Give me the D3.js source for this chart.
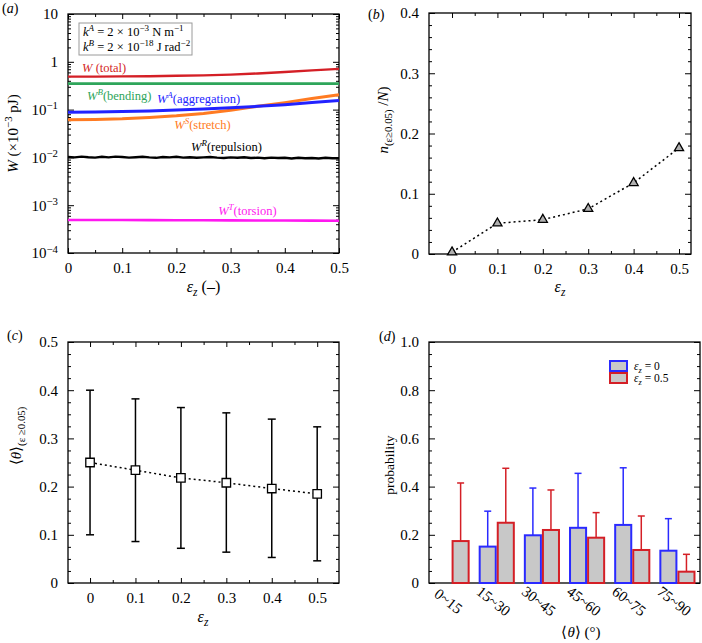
<!DOCTYPE html>
<html><head><meta charset="utf-8">
<script src="https://cdn.jsdelivr.net/npm/d3@7"></script>
<style>body{margin:0;background:#fff}</style>
</head><body>
<svg id="c" width="702" height="643"></svg>
<script>
// ---------------- data ----------------
const epsA = [0, 0.05, 0.1, 0.15, 0.2, 0.25, 0.3, 0.35, 0.4, 0.45, 0.5];
const wTotal = [0.49, 0.49, 0.495, 0.50, 0.51, 0.52, 0.54, 0.57, 0.61, 0.66, 0.71];
const wBending = [0.35, 0.35, 0.349, 0.35, 0.349, 0.35, 0.349, 0.35, 0.349, 0.35, 0.349];
const wAggregation = [0.088, 0.089, 0.091, 0.094, 0.098, 0.103, 0.109, 0.117, 0.127, 0.14, 0.155];
const wStretch = [0.061, 0.062, 0.064, 0.068, 0.074, 0.083, 0.097, 0.117, 0.14, 0.17, 0.205];
const wTorsion = [0.00049, 0.00049, 0.00049, 0.000488, 0.000486, 0.000485, 0.000482, 0.00048, 0.000478, 0.000475, 0.000472];
const epsFine = [0, 0.0125, 0.025, 0.0375, 0.05, 0.0625, 0.075, 0.0875, 0.1, 0.1125,
  0.125, 0.1375, 0.15, 0.1625, 0.175, 0.1875, 0.2, 0.2125, 0.225, 0.2375,
  0.25, 0.2625, 0.275, 0.2875, 0.3, 0.3125, 0.325, 0.3375, 0.35, 0.3625,
  0.375, 0.3875, 0.4, 0.4125, 0.425, 0.4375, 0.45, 0.4625, 0.475, 0.4875, 0.5];
const wRepulsion = [0.0102, 0.0100, 0.0104, 0.0101, 0.0099, 0.0103, 0.0100, 0.0104, 0.0102, 0.0099,
  0.0101, 0.0103, 0.0100, 0.0098, 0.0102, 0.0100, 0.0103, 0.0099, 0.0101, 0.0098,
  0.0100, 0.0102, 0.0099, 0.0097, 0.0100, 0.0098, 0.0101, 0.0097, 0.0099, 0.0096,
  0.0099, 0.0097, 0.0098, 0.0095, 0.0098, 0.0096, 0.0097, 0.0095, 0.0098, 0.0096, 0.0096];
const logTicks = [1e-4, 1e-3, 1e-2, 1e-1, 1, 10];

const epsB = [0, 0.1, 0.2, 0.3, 0.4, 0.5];
const nFrac = [0.003, 0.051, 0.057, 0.075, 0.118, 0.176];

const thetaMean = [0.250, 0.234, 0.218, 0.208, 0.196, 0.185];
const thetaHi = [0.400, 0.382, 0.364, 0.353, 0.340, 0.324];
const thetaLo = [0.100, 0.086, 0.072, 0.064, 0.053, 0.046];

const angleBins = ["0~15", "15~30", "30~45", "45~60", "60~75", "75~90"];
const probE0 = [0, 0.151, 0.198, 0.229, 0.241, 0.134];
const probE0Up = [0, 0.298, 0.394, 0.455, 0.478, 0.267];
const probE05 = [0.174, 0.250, 0.220, 0.188, 0.137, 0.047];
const probE05Up = [0.415, 0.476, 0.386, 0.292, 0.278, 0.119];

// ---------------- helpers ----------------
const serif = "'Liberation Serif','Times New Roman',serif";
const svg = d3.select("#c").attr("font-family", serif);

function rich(sel, parts, fs) {
  let shift = 0;
  parts.forEach(p => {
    const txt = p[0], o = p[1] || {};
    const target = o.sup ? -0.38 * fs : o.sub ? 0.28 * fs : 0;
    const ts = sel.append("tspan").text(txt);
    if (target - shift !== 0) ts.attr("dy", target - shift);
    shift = target;
    if (o.sup || o.sub) ts.attr("font-size", fs * 0.72);
    if (o.i) ts.attr("font-style", "italic");
  });
  return sel;
}

function styleAxis(s) {
  s.select(".domain").remove();
  s.attr("font-family", serif).attr("font-size", 15);
  s.selectAll("line").attr("stroke", "#000").attr("stroke-width", 1);
  s.selectAll("text").attr("fill", "#000");
}

function axesFor(g, x, y, o) {
  const [yb, yt] = y.range();
  const [xl, xr] = x.range();
  if (o.xMajor) {
    g.append("g").attr("transform", `translate(0,${yb})`)
      .call(d3.axisBottom(x).tickValues(o.xMajor).tickSizeInner(-5).tickSizeOuter(0).tickPadding(9).tickFormat(o.xFmt)).call(styleAxis);
    g.append("g").attr("transform", `translate(0,${yt})`)
      .call(d3.axisTop(x).tickValues(o.xMajor).tickSizeInner(-5).tickSizeOuter(0).tickFormat(() => "")).call(styleAxis);
  }
  if (o.xMinor) {
    g.append("g").attr("transform", `translate(0,${yb})`)
      .call(d3.axisBottom(x).tickValues(o.xMinor).tickSizeInner(-3).tickSizeOuter(0).tickFormat(() => "")).call(styleAxis);
    g.append("g").attr("transform", `translate(0,${yt})`)
      .call(d3.axisTop(x).tickValues(o.xMinor).tickSizeInner(-3).tickSizeOuter(0).tickFormat(() => "")).call(styleAxis);
  }
  const la = g.append("g").attr("transform", `translate(${xl},0)`)
    .call(d3.axisLeft(y).tickValues(o.yMajor).tickSizeInner(-6).tickSizeOuter(0).tickPadding(10).tickFormat(o.yFmt)).call(styleAxis);
  g.append("g").attr("transform", `translate(${xr},0)`)
    .call(d3.axisRight(y).tickValues(o.yMajor).tickSizeInner(-6).tickSizeOuter(0).tickFormat(() => "")).call(styleAxis);
  if (o.yMinor) {
    g.append("g").attr("transform", `translate(${xl},0)`)
      .call(d3.axisLeft(y).tickValues(o.yMinor).tickSizeInner(-3).tickSizeOuter(0).tickFormat(() => "")).call(styleAxis);
    g.append("g").attr("transform", `translate(${xr},0)`)
      .call(d3.axisRight(y).tickValues(o.yMinor).tickSizeInner(-3).tickSizeOuter(0).tickFormat(() => "")).call(styleAxis);
  }
  g.append("rect").attr("x", xl).attr("y", yt).attr("width", xr - xl).attr("height", yb - yt)
    .attr("fill", "none").attr("stroke", "#000").attr("stroke-width", 1.3);
  return la;
}

const fmt1 = d => d === 0 ? "0" : d3.format(".1f")(d);

function panelLabel(x, y, letter) {
  rich(svg.append("text").attr("x", x).attr("y", y).attr("font-size", 14),
    [["("], [letter, { i: true }], [")"]], 14);
}

// ---------------- panel (a) ----------------
const gA = svg.append("g");
const xA = d3.scaleLinear([0, 0.5], [68, 339]);
const yA = d3.scaleLog([1e-4, 10], [253, 14]);
const minorLog = [];
logTicks.slice(0, -1).forEach(t => { for (let k = 2; k <= 9; k++) minorLog.push(t * k); });
const xMajA = [0, 0.1, 0.2, 0.3, 0.4, 0.5];
const xMinA = [0.05, 0.15, 0.25, 0.35, 0.45];
const laA = axesFor(gA, xA, yA, { xMajor: xMajA, xMinor: xMinA, xFmt: fmt1, yMajor: logTicks, yMinor: minorLog, yFmt: () => "" });
laA.selectAll(".tick text").each(function (d) {
  const e = Math.round(Math.log10(d));
  const t = d3.select(this);
  if (e === 0) rich(t, [["1"]], 15);
  else if (e === 1) rich(t, [["10"]], 15);
  else rich(t, [["10"], ["\u2212" + (-e), { sup: true }]], 15);
});

const lineA = (xs) => d3.line().x((d, i) => xA(xs[i])).y(d => yA(d));
const seriesA = [
  [wTotal, epsA, "#d41f26", 2.4],
  [wBending, epsA, "#2ea55a", 2.8],
  [wStretch, epsA, "#ff7b22", 3.0],
  [wAggregation, epsA, "#2222ff", 3.0],
  [wRepulsion, epsFine, "#000", 2.4],
  [wTorsion, epsA, "#ff18f0", 2.6]
];
gA.append("g").selectAll("path").data(seriesA).join("path")
  .attr("d", s => lineA(s[1])(s[0]))
  .attr("fill", "none").attr("stroke", s => s[2]).attr("stroke-width", s => s[3]);

const labelsA = [
  [0.026, 0.61, "#d41f26", [["W", { i: true }], [" (total)"]]],
  [0.035, 0.158, "#2ea55a", [["W", { i: true }], ["B", { i: true, sup: true }], ["(bending)"]]],
  [0.164, 0.137, "#2222ff", [["W", { i: true }], ["A", { i: true, sup: true }], ["(aggregation)"]]],
  [0.196, 0.0393, "#ff7b22", [["W", { i: true }], ["S", { i: true, sup: true }], ["(stretch)"]]],
  [0.227, 0.0136, "#000", [["W", { i: true }], ["R", { i: true, sup: true }], ["(repulsion)"]]],
  [0.277, 0.000624, "#ff18f0", [["W", { i: true }], ["T", { i: true, sup: true }], ["(torsion)"]]]
];
labelsA.forEach(l => {
  const t = gA.append("text").attr("x", xA(l[0])).attr("y", yA(l[1])).attr("fill", l[2]).attr("font-size", 12.5);
  rich(t, l[3], 12.5);
});

// parameter box
gA.append("rect").attr("x", xA(0) + 11).attr("y", yA(10) + 9).attr("width", 113).attr("height", 32)
  .attr("fill", "#fff").attr("stroke", "#9a9a9a").attr("stroke-width", 1);
rich(gA.append("text").attr("x", xA(0) + 15).attr("y", yA(10) + 22).attr("font-size", 12.5),
  [["k", { i: true }], ["A", { i: true, sup: true }], [" = 2 \u00d7 10"], ["\u22123", { sup: true }], [" N m"], ["\u22121", { sup: true }]], 12.5);
rich(gA.append("text").attr("x", xA(0) + 15).attr("y", yA(10) + 37).attr("font-size", 12.5),
  [["k", { i: true }], ["B", { i: true, sup: true }], [" = 2 \u00d7 10"], ["\u221218", { sup: true }], [" J rad"], ["\u22122", { sup: true }]], 12.5);

rich(svg.append("text").attr("transform", `translate(18,${(yA.range()[0] + yA.range()[1]) / 2}) rotate(-90)`)
  .attr("text-anchor", "middle").attr("font-size", 15),
  [["W", { i: true }], [" (\u00d710"], ["\u22123", { sup: true }], [" pJ)"]], 15);
rich(svg.append("text").attr("x", (xA.range()[0] + xA.range()[1]) / 2).attr("y", 292).attr("text-anchor", "middle").attr("font-size", 16),
  [["\u03b5", { i: true }], ["z", { i: true, sub: true }], [" (\u2013)"]], 16);
panelLabel(2, 13, "a");

// ---------------- panel (b) ----------------
const gB = svg.append("g");
const xB = d3.scaleLinear([-0.0507, 0.5264], [429, 691]);
const yB = d3.scaleLinear([0, 0.4], [254, 13]);
const yMinB = d3.range(0.02, 0.4, 0.02).filter(v => Math.abs(v * 10 - Math.round(v * 10)) > 1e-6);
axesFor(gB, xB, yB, { xMajor: xMajA, xMinor: xMinA, xFmt: fmt1, yMajor: [0, 0.1, 0.2, 0.3, 0.4], yMinor: yMinB, yFmt: fmt1 });
gB.append("path").datum(nFrac)
  .attr("d", d3.line().x((d, i) => xB(epsB[i])).y(d => yB(d)))
  .attr("fill", "none").attr("stroke", "#000").attr("stroke-width", 1.5).attr("stroke-dasharray", "2,3");
gB.selectAll(".tri").data(nFrac).join("path").attr("class", "tri")
  .attr("transform", (d, i) => `translate(${xB(epsB[i])},${yB(d)})`)
  .attr("d", d3.symbol(d3.symbolTriangle, 36))
  .attr("fill", "#b0b0b0").attr("stroke", "#000").attr("stroke-width", 1.3);
rich(svg.append("text").attr("transform", `translate(388,120) rotate(-90)`).attr("text-anchor", "middle").attr("font-size", 15),
  [["n", { i: true }], ["(\u03b5\u22650.05)", { sub: true }], [" /"], ["N", { i: true }], [")"]], 15);
rich(svg.append("text").attr("x", 560).attr("y", 292).attr("text-anchor", "middle").attr("font-size", 16),
  [["\u03b5", { i: true }], ["z", { i: true, sub: true }]], 16);
panelLabel(368, 19, "b");

// ---------------- panel (c) ----------------
const gC = svg.append("g");
const xC = d3.scaleLinear([-0.0485, 0.548], [68, 339]);
const yC = d3.scaleLinear([0, 0.5], [583, 342]);
const yMinC = d3.range(0.025, 0.5, 0.025).filter(v => Math.abs(v * 10 - Math.round(v * 10)) > 1e-6);
axesFor(gC, xC, yC, { xMajor: xMajA, xMinor: xMinA, xFmt: fmt1, yMajor: [0, 0.1, 0.2, 0.3, 0.4, 0.5], yMinor: yMinC, yFmt: fmt1 });
const eb = gC.append("g").attr("stroke", "#000").attr("stroke-width", 1.5);
thetaMean.forEach((m, i) => {
  const cx = xC(epsB[i]);
  eb.append("line").attr("x1", cx).attr("x2", cx).attr("y1", yC(thetaLo[i])).attr("y2", yC(thetaHi[i]));
  eb.append("line").attr("x1", cx - 4).attr("x2", cx + 4).attr("y1", yC(thetaLo[i])).attr("y2", yC(thetaLo[i]));
  eb.append("line").attr("x1", cx - 4).attr("x2", cx + 4).attr("y1", yC(thetaHi[i])).attr("y2", yC(thetaHi[i]));
});
gC.append("path").datum(thetaMean)
  .attr("d", d3.line().x((d, i) => xC(epsB[i])).y(d => yC(d)))
  .attr("fill", "none").attr("stroke", "#000").attr("stroke-width", 1.5).attr("stroke-dasharray", "2,3");
gC.selectAll(".sq").data(thetaMean).join("path").attr("class", "sq")
  .attr("transform", (d, i) => `translate(${xC(epsB[i])},${yC(d)})`)
  .attr("d", d3.symbol(d3.symbolSquare, 72))
  .attr("fill", "#fff").attr("stroke", "#000").attr("stroke-width", 1.3);
rich(svg.append("text").attr("transform", `translate(21,436) rotate(-90)`).attr("text-anchor", "middle").attr("font-size", 15),
  [["\u27e8"], ["\u03b8", { i: true }], ["\u27e9"], ["(\u03b5 \u22650.05)", { sub: true }]], 15);
rich(svg.append("text").attr("x", 203).attr("y", 622).attr("text-anchor", "middle").attr("font-size", 16),
  [["\u03b5", { i: true }], ["z", { i: true, sub: true }]], 16);
panelLabel(7, 340, "c");

// ---------------- panel (d) ----------------
const gD = svg.append("g");
const xD = d3.scaleBand(angleBins, [429, 700]).paddingInner(0.2).paddingOuter(0.1);
const xSub = d3.scaleBand(["e0", "e05"], [0, xD.bandwidth()]);
const yD = d3.scaleLinear([0, 1], [583, 342]);
const yMinD = d3.range(0.05, 1, 0.05).filter(v => Math.abs(v * 5 - Math.round(v * 5)) > 1e-6);
axesFor(gD, xD, yD, { yMajor: [0, 0.2, 0.4, 0.6, 0.8, 1.0], yMinor: yMinD, yFmt: fmt1 });
const barSets = [["e0", probE0, probE0Up, "#2a2aff"], ["e05", probE05, probE05Up, "#d41f26"]];
barSets.forEach(([key, vals, ups, col]) => {
  const gg = gD.append("g");
  angleBins.forEach((b, i) => {
    if (vals[i] <= 0) return;
    const x0 = xD(b) + xSub(key), w = xSub.bandwidth(), cx = x0 + w / 2;
    gg.append("line").attr("x1", cx).attr("x2", cx).attr("y1", yD(vals[i])).attr("y2", yD(ups[i]))
      .attr("stroke", col).attr("stroke-width", 1.5);
    gg.append("line").attr("x1", cx - 3.5).attr("x2", cx + 3.5).attr("y1", yD(ups[i])).attr("y2", yD(ups[i]))
      .attr("stroke", col).attr("stroke-width", 1.5);
    gg.append("rect").attr("x", x0 + 1).attr("y", yD(vals[i])).attr("width", w - 2).attr("height", yD(0) - yD(vals[i]))
      .attr("fill", "#c8c8c8").attr("stroke", col).attr("stroke-width", 2);
  });
});
gD.append("g").attr("transform", `translate(0,583)`)
  .call(d3.axisBottom(xD).tickSize(0).tickFormat(d => d)).call(styleAxis)
  .call(s => s.selectAll("text").attr("font-size", 15).attr("text-anchor", "middle")
    .attr("x", 0).attr("y", 0).attr("dy", "0.35em").attr("transform", "translate(-3,18) rotate(38)"));
// legend
[["\u03b5", "z", " = 0", "#2a2aff", 361, 369.5], ["\u03b5", "z", " = 0.5", "#d41f26", 373, 382]].forEach(l => {
  gD.append("rect").attr("x", 610).attr("y", l[4]).attr("width", 17).attr("height", 10)
    .attr("fill", "#c8c8c8").attr("stroke", l[3]).attr("stroke-width", 2);
  rich(gD.append("text").attr("x", 634).attr("y", l[5]).attr("font-size", 11.5),
    [[l[0], { i: true }], [l[1], { i: true, sub: true }], [l[2]]], 11.5);
});
svg.append("text").attr("transform", `translate(394,465) rotate(-90)`).attr("text-anchor", "middle")
  .attr("font-size", 13.5).text("probability");
rich(svg.append("text").attr("x", 581).attr("y", 637).attr("text-anchor", "middle").attr("font-size", 15),
  [["\u27e8"], ["\u03b8", { i: true }], ["\u27e9 (\u00b0)"]], 15);
panelLabel(379, 341, "d");
</script>
</body></html>
